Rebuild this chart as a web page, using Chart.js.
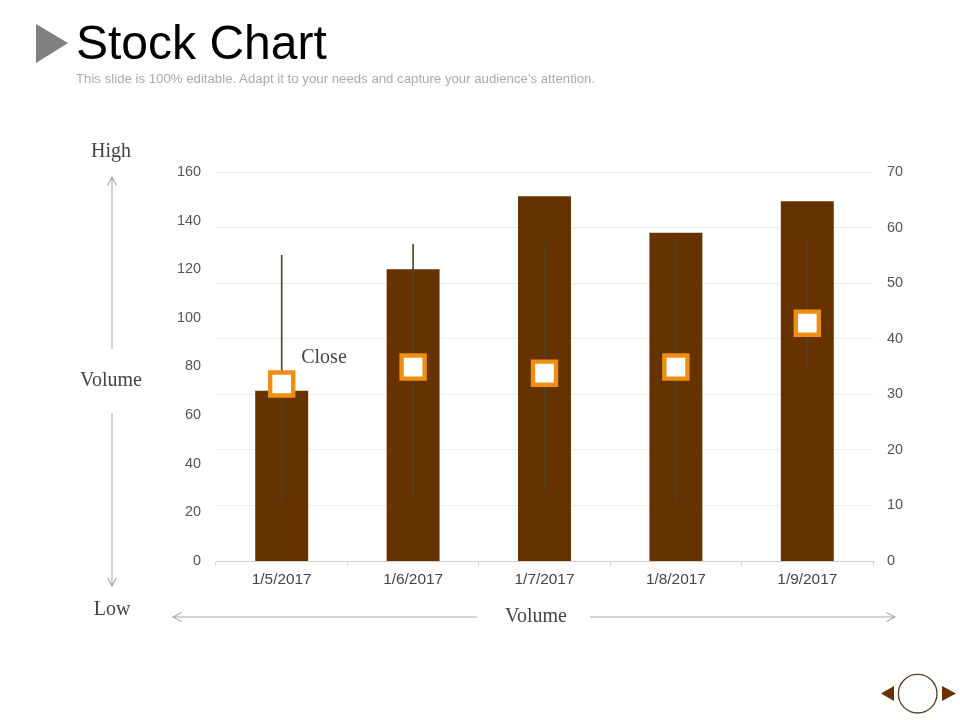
<!DOCTYPE html>
<html>
<head>
<meta charset="utf-8">
<title>Stock Chart</title>
<script src="https://cdn.jsdelivr.net/npm/chart.js@4"></script>
<style>
  html, body { margin: 0; padding: 0; background: #fff; }
  #stage { position: relative; width: 960px; height: 720px; overflow: hidden; }
  #chart { position: absolute; left: 0; top: 0; }
  svg { position: absolute; left: 0; top: 0; }
  .t { position: absolute; white-space: nowrap; line-height: 1; }
  .s { font-family: "Liberation Serif", serif; font-size: 20px; color: #444; transform: translate(-50%, -50%); }
</style>
</head>
<body>
<div id="stage">
  <canvas id="chart" width="960" height="720"></canvas>
  <svg width="960" height="720" viewBox="0 0 960 720">
    <polygon points="36,24 68,43 36,63" fill="#808080"/>
    <g fill="none" stroke="#aaaaaa" stroke-width="1.1">
      <path d="M112 349V177M107.5 185.5L112 177L116.5 185.5"/>
      <path d="M112 413V586M107.5 577.5L112 586L116.5 577.5"/>
      <path d="M477 617H173M181.5 612.5L173 617L181.5 621.5"/>
      <path d="M590 617H895M886.5 612.5L895 617L886.5 621.5"/>
    </g>
    <polygon points="894,686 894,701 881,693.5" fill="#663300"/>
    <polygon points="942,686 942,701 956,693.5" fill="#663300"/>
    <circle cx="917.7" cy="693.7" r="19.3" fill="#fff" stroke="#5a3a20" stroke-width="1.3"/>
  </svg>
  <div class="t" style="left:76px;top:19px;font:48px/1 'Liberation Sans',sans-serif;color:#000;">Stock Chart</div>
  <div class="t" style="left:76px;top:72px;font:13.23px/1 'Liberation Sans',sans-serif;color:#aaa;">This slide is 100% editable. Adapt it to your needs and capture your audience's attention.</div>
  <div class="t s" style="left:111px;top:150px;">High</div>
  <div class="t s" style="left:111px;top:379px;">Volume</div>
  <div class="t s" style="left:112px;top:608px;">Low</div>
  <div class="t s" style="left:536px;top:615px;">Volume</div>
  <div class="t s" style="left:324px;top:356px;">Close</div>
</div>
<script>
const categories = ['1/5/2017', '1/6/2017', '1/7/2017', '1/8/2017', '1/9/2017'];
const volume = [70, 120, 150, 135, 148];
const high = [55, 57, 56.9, 57.8, 57.8];
const low = [11, 11.7, 12.8, 11, 34.7];
const close = [31.85, 34.9, 33.8, 34.9, 42.8];
const leftTicks = [0, 20, 40, 60, 80, 100, 120, 140, 160];
const rightTicks = [0, 10, 20, 30, 40, 50, 60, 70];

const tickFont = { family: "'Liberation Sans', sans-serif", size: 14.4 };

new Chart(document.getElementById('chart'), {
  data: {
    labels: categories,
    datasets: [
      {
        type: 'scatter',
        label: 'Close',
        data: close.map((v, i) => ({ x: categories[i], y: v })),
        yAxisID: 'y1',
        xAxisID: 'x',
        showLine: false,
        pointStyle: 'rect',
        pointRadius: 16.3,
        pointHoverRadius: 16.3,
        pointBackgroundColor: '#ffffff',
        pointBorderColor: '#ee8f11',
        pointBorderWidth: 4.4,
        order: 1
      },
      {
        type: 'bar',
        label: 'High-Low',
        data: low.map((v, i) => [v, high[i]]),
        yAxisID: 'y1',
        xAxisID: 'x',
        grouped: false,
        barThickness: 1,
        backgroundColor: '#4f4230',
        order: 2
      },
      {
        type: 'bar',
        label: 'Volume',
        data: volume,
        yAxisID: 'y',
        xAxisID: 'x',
        grouped: false,
        categoryPercentage: 1,
        barPercentage: 0.403,
        backgroundColor: '#663300',
        order: 3
      }
    ]
  },
  options: {
    responsive: false,
    animation: false,
    events: [],
    layout: { padding: { top: 172, left: 0, right: 0, bottom: 0 } },
    plugins: { legend: { display: false }, tooltip: { enabled: false }, title: { display: false } },
    scales: {
      x: {
        type: 'category',
        labels: categories,
        offset: true,
        afterFit: s => { s.height = 159; },
        grid: { offset: true, drawOnChartArea: false, drawTicks: true, tickLength: 4, color: '#cfcfcf' },
        border: { color: '#cfcfcf' },
        ticks: { color: '#444', padding: 6, maxRotation: 0, font: { family: tickFont.family, size: 15.4 } }
      },
      y: {
        position: 'left',
        min: 0,
        max: 160,
        afterFit: s => { s.width = 216; },
        afterBuildTicks: s => { s.ticks = leftTicks.map(v => ({ value: v })); },
        grid: { display: false, drawTicks: false },
        border: { display: false },
        ticks: { color: '#555', padding: 15, font: tickFont }
      },
      y1: {
        position: 'right',
        min: 0,
        max: 70,
        afterFit: s => { s.width = 87; },
        afterBuildTicks: s => { s.ticks = rightTicks.map(v => ({ value: v })); },
        grid: { color: '#eeeeee', drawTicks: false },
        border: { display: false },
        ticks: { color: '#555', padding: 14, font: tickFont }
      }
    }
  }
});
</script>
</body>
</html>
